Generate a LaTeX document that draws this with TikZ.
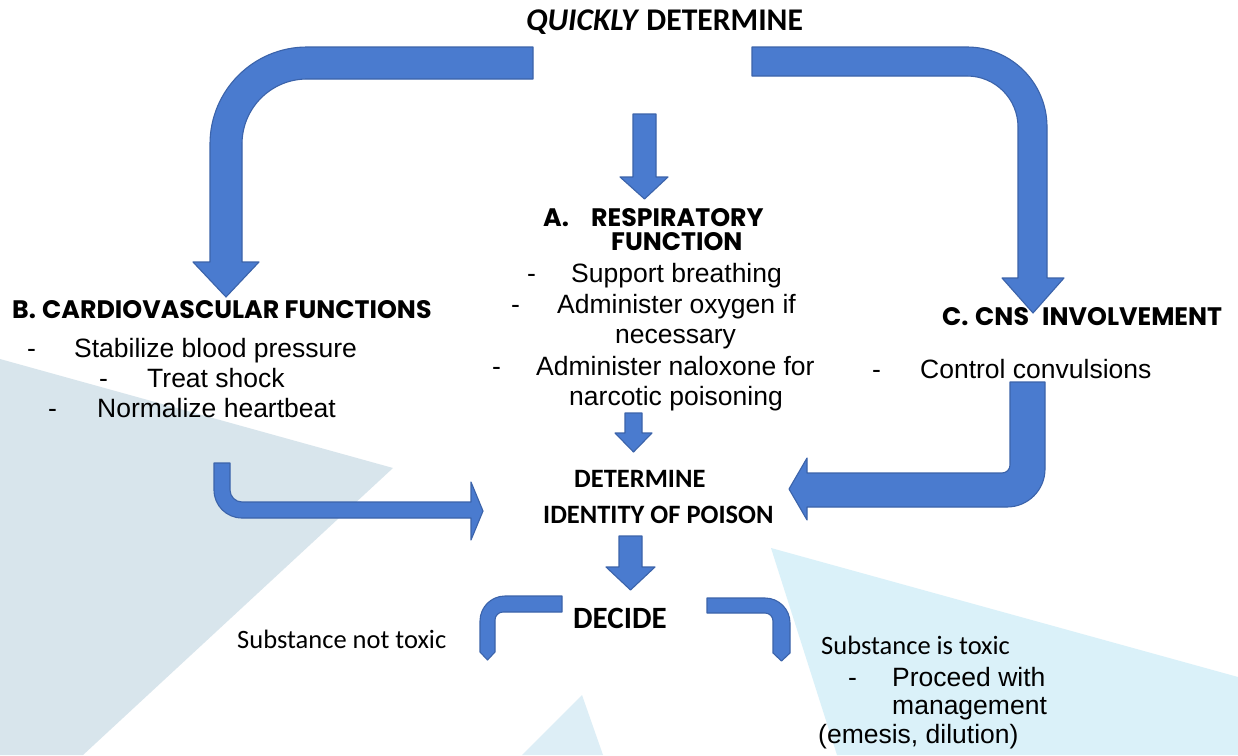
\documentclass[tikz,border=0pt]{standalone}
\usepackage{fontspec}
\setmainfont{Liberation Sans}
\newfontfamily\calf{Carlito}
\newfontfamily\popf{Poppins}
\definecolor{abl}{HTML}{4A7BCF}
\definecolor{abd}{HTML}{3B63AA}
\definecolor{bgl}{HTML}{D8E5EC}
\definecolor{bgc}{HTML}{DAF1F9}
\definecolor{bgcb}{HTML}{DDEEF6}
\begin{document}
\begin{tikzpicture}[x=1pt,y=-1pt,
  blockarrow/.style={fill=abl,draw=abd,line width=1.1pt,line join=round},
  body/.style={anchor=base west,inner sep=0pt,font=\fontsize{26.5}{30}\selectfont},
  calt/.style={anchor=base west,inner sep=0pt,font=\calf\fontsize{26.5}{30}\selectfont},
  calb/.style={anchor=base west,inner sep=0pt,font=\calf\bfseries\fontsize{26.5}{30}\selectfont},
  calbig/.style={anchor=base west,inner sep=0pt,font=\calf\bfseries\fontsize{31}{34}\selectfont},
  head/.style={anchor=base west,inner sep=0pt,font=\popf\bfseries\fontsize{25.3}{28}\selectfont}]
\useasboundingbox (0,0) rectangle (1238,755);
\fill[white] (0,0) rectangle (1238,755);
% background shapes
\fill[bgl] (0,359) -- (393,468) -- (83,755) -- (0,755) -- cycle;
\fill[bgc] (771,548) -- (1238,677) -- (1238,755) -- (837,755) -- cycle;
\fill[bgcb] (582,695) -- (603,755) -- (522,755) -- cycle;
% texts
\node[calbig,font=\calf\bfseries\fontsize{31.6}{34}\selectfont] (title) at (526,30) {\textit{QUICKLY} DETERMINE};
\node[head] (ah1) at (543,226) {\makebox[48pt][l]{A.}RESPIRATORY};
\node[head] (ah2) at (611,250) {FUNCTION};
\node[body] (a1) at (527,282.5) {\makebox[44pt][l]{-}Support breathing};
\node[body] (a2) at (511,313) {\makebox[46pt][l]{-}Administer oxygen if};
\node[body] (a3) at (615,343) {necessary};
\node[body] (a4) at (492,375) {\makebox[44pt][l]{-}Administer naloxone for};
\node[body] (a5) at (569,405) {narcotic poisoning};
\node[head] (bh) at (12,318) {\makebox[30pt][l]{B.}CARDIOVASCULAR FUNCTIONS};
\node[body] (b1) at (27,357) {\makebox[47pt][l]{-}Stabilize blood pressure};
\node[body] (b2) at (99,387) {\makebox[48pt][l]{-}Treat shock};
\node[body] (b3) at (48,417) {\makebox[49pt][l]{-}Normalize heartbeat};
\node[head] (ch) at (942,325) {\makebox[33pt][l]{C.}\makebox[67pt][l]{CNS}INVOLVEMENT};
\node[body] (c1) at (872,378) {\makebox[48pt][l]{-}Control convulsions};
\node[calb] (d1) at (574,487) {DETERMINE};
\node[calb] (d2) at (543,523) {IDENTITY OF POISON};
\node[calbig] (dec) at (573,628) {DECIDE};
\node[calt] (nt) at (237,648) {Substance not toxic};
\node[calt] (it) at (821,654) {Substance is toxic};
\node[body] (p1) at (848,686) {\makebox[44pt][l]{-}Proceed with};
\node[body] (p2) at (892,714) {management};
\node[body] (p3) at (818,743) {(emesis, dilution)};
% block arrows
\draw[blockarrow] (533,47) -- (307,47) .. controls (253.4,47) and (210,90.4) .. (210,144)
  -- (210,262) -- (193,262) -- (226,297) -- (259,262) -- (242,262) -- (242,144)
  .. controls (242,108.1) and (271.1,79) .. (307,79) -- (533,79) -- cycle;
\draw[blockarrow] (752,47) -- (967,47) .. controls (1011.2,47) and (1047,82.8) .. (1047,127)
  -- (1047,278) -- (1064,278) -- (1033,313) -- (1002,278) -- (1018,278) -- (1018,127)
  .. controls (1018,98.8) and (995.2,76) .. (967,76) -- (752,76) -- cycle;
\draw[blockarrow] (633,114) -- (656,114) -- (656,177) -- (668,177) -- (644.5,199) -- (620,177) -- (633,177) -- cycle;
\draw[blockarrow] (625,413) -- (642,413) -- (642,433) -- (652,433) -- (633.5,452) -- (615,433) -- (625,433) -- cycle;
\draw[blockarrow] (619,536) -- (642,536) -- (642,567) -- (655,567) -- (630.5,590) -- (606,567) -- (619,567) -- cycle;
\draw[blockarrow] (214,463) -- (214,490) .. controls (214,505.5) and (226.5,518) .. (242,518)
  -- (471,518) -- (471,540) -- (483,511) -- (471,482) -- (471,502) -- (242,502)
  .. controls (235.4,502) and (230,496.6) .. (230,490) -- (230,463) -- cycle;
\draw[blockarrow] (1010,382) -- (1045,382) -- (1045,469) .. controls (1045,490) and (1028,507) .. (1007,507)
  -- (807,507) -- (807,520) -- (789,489) -- (807,458) -- (807,473) -- (1002,473)
  .. controls (1006.4,473) and (1010,469.4) .. (1010,465) -- cycle;
\draw[blockarrow] (562,596) -- (505,596) .. controls (491.2,596) and (480,607.2) .. (480,621)
  -- (480,652) -- (487.5,660) -- (495,652) -- (495,620) .. controls (495,615.6) and (498.6,612) .. (503,612)
  -- (562,612) -- cycle;
\draw[blockarrow] (707,598) -- (765,598) .. controls (778.8,598) and (790,609.2) .. (790,623)
  -- (790,653) -- (781.5,661) -- (773,653) -- (773,621) .. controls (773,616.6) and (769.4,613) .. (765,613)
  -- (707,613) -- cycle;
\end{tikzpicture}
\end{document}
